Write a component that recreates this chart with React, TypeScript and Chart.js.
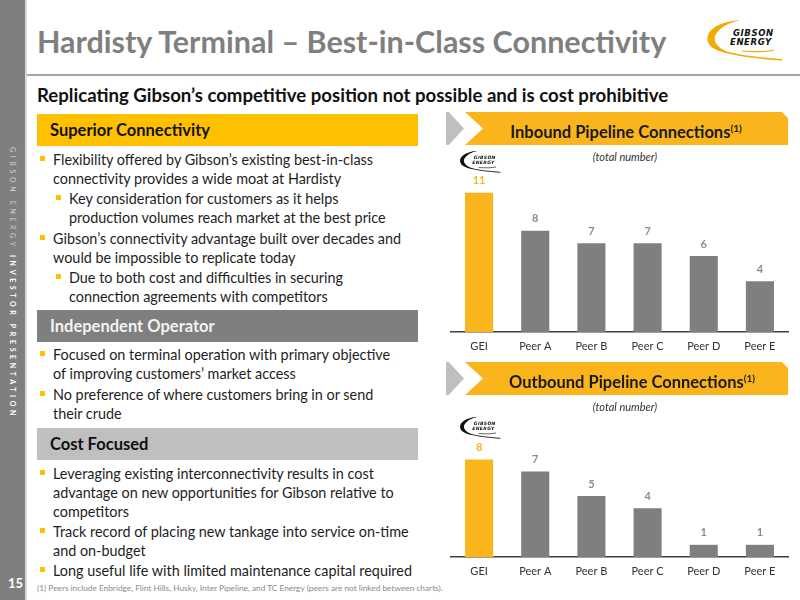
import React, { useEffect, useRef } from "react";
import { Chart, registerables } from "chart.js";
Chart.register(...registerables);

const categories = ["GEI", "Peer A", "Peer B", "Peer C", "Peer D", "Peer E"];
const inboundValues = [11, 8, 7, 7, 6, 4];
const outboundValues = [8, 7, 5, 4, 1, 1];
const inboundMax = 12;
const outboundMax = 10;

const ORANGE = "#F9B51B";
const HEAD_YELLOW = "#FFC000";
const GRAY = "#7F7F7F";
const FONT = "Lato, 'Open Sans', sans-serif";

function BarChart(props: { values: number[]; max: number; top: number; height: number; padTop: number; axisH: number }) {
  const { values, max, top, height, padTop, axisH } = props;
  const ref = useRef<HTMLCanvasElement>(null);
  useEffect(() => {
    const labelPlugin = {
      id: "vals",
      afterDatasetsDraw(chart: any) {
        const ctx = chart.ctx;
        const meta = chart.getDatasetMeta(0);
        ctx.save();
        ctx.font = `bold 11px ${FONT}`;
        ctx.textAlign = "center";
        ctx.textBaseline = "middle";
        meta.data.forEach((el: any, i: number) => {
          ctx.fillStyle = i === 0 ? ORANGE : "#8C8C8C";
          ctx.fillText(String(values[i]), el.x, el.y - 12);
        });
        ctx.restore();
      },
    };
    const chart = new Chart(ref.current as HTMLCanvasElement, {
      type: "bar",
      data: {
        labels: categories,
        datasets: [
          {
            data: values,
            backgroundColor: categories.map((_, i) => (i === 0 ? ORANGE : GRAY)),
            categoryPercentage: 1,
            barPercentage: 0.5,
          },
        ],
      },
      options: {
        animation: false,
        responsive: false,
        maintainAspectRatio: false,
        layout: { padding: { left: 11, right: 7, top: padTop, bottom: 0 } },
        plugins: { legend: { display: false }, tooltip: { enabled: false } },
        scales: {
          x: {
            grid: { display: false, drawTicks: false },
            border: { display: true, color: "#3F3F3F", width: 1.5 },
            ticks: { padding: 8, color: "#333", font: { family: "Lato", size: 11 } },
            afterFit: (s: any) => {
              s.height = axisH;
            },
          },
          y: { display: false, min: 0, max },
        },
      },
      plugins: [labelPlugin],
    } as any);
    return () => chart.destroy();
  }, []);
  return (
    <canvas
      ref={ref}
      width={355}
      height={height}
      style={{ position: "absolute", left: 440, top, width: 355, height }}
    />
  );
}

function Logo(props: { left: number; top: number; width: number; color: string }) {
  const { left, top, width, color } = props;
  const h = (width * 50) / 85;
  return (
    <svg
      viewBox="0 0 85 50"
      width={width}
      height={h}
      style={{ position: "absolute", left, top }}
    >
      <path
        d="M40 5 C15 7 3 18 9 29 C12 34 20 37 32 39 C19 34 13 28 15 21 C19 12 29 8 40 5 Z"
        fill={color}
      />
      <path d="M22 36 C40 42 62 43 82 45" stroke={color} strokeWidth={1.6} fill="none" />
      <path d="M42 36 C55 37 66 37 74 35" stroke={color} strokeWidth={1.2} fill="none" />
      <text
        x={33}
        y={21}
        fontFamily="'DejaVu Sans', sans-serif"
        fontWeight="bold"
        fontStyle="italic"
        fontSize={8.5}
        letterSpacing={0.6}
        fill="#111"
      >
        GIBSON
      </text>
      <text
        x={30}
        y={30}
        fontFamily="'DejaVu Sans', sans-serif"
        fontWeight="bold"
        fontStyle="italic"
        fontSize={8.5}
        letterSpacing={0.6}
        fill="#111"
      >
        ENERGY
      </text>
    </svg>
  );
}

function Line(props: { x: number; y: number; text: React.ReactNode; size?: number; bold?: boolean; color?: string; italic?: boolean; center?: boolean; lh?: number }) {
  const { x, y, text, size = 14.4, bold, color = "#1E1E1E", italic, center, lh = 20 } = props;
  return (
    <div
      style={{
        position: "absolute",
        left: center ? x - 300 : x,
        width: center ? 600 : undefined,
        textAlign: center ? "center" : "left",
        top: y - lh / 2,
        height: lh,
        lineHeight: `${lh}px`,
        fontSize: size,
        fontWeight: bold ? 700 : 400,
        fontStyle: italic ? "italic" : "normal",
        color,
        whiteSpace: "nowrap",
      }}
    >
      {text}
    </div>
  );
}

function Bullet(props: { x: number; y: number; lines: string[]; gap?: number }) {
  const { x, y, lines, gap = 19.2 } = props;
  return (
    <>
      <div
        style={{
          position: "absolute",
          left: x - 13,
          top: y - 4,
          width: 5,
          height: 5,
          background: HEAD_YELLOW,
        }}
      />
      {lines.map((t, i) => (
        <Line key={i} x={x} y={y + i * gap} text={t} />
      ))}
    </>
  );
}

function HeaderBox(props: { top: number; text: string; bg: string; color: string }) {
  const { top, text, bg, color } = props;
  return (
    <div
      style={{
        position: "absolute",
        left: 37,
        top,
        width: 381,
        height: 32,
        background: bg,
        color,
        fontWeight: 700,
        fontSize: 16.5,
        lineHeight: "32px",
        paddingLeft: 13,
        boxSizing: "border-box",
        whiteSpace: "nowrap",
      }}
    >
      {text}
    </div>
  );
}

function Banner(props: { top: number; title: string; cx: number }) {
  const { top, title, cx } = props;
  const h = 33;
  return (
    <>
      <div
        style={{
          position: "absolute",
          left: 446,
          top,
          width: 18,
          height: h,
          background: "#BFBFBF",
          clipPath: "polygon(0 0, 15% 0, 100% 50%, 15% 100%, 0 100%)",
        }}
      />
      <div
        style={{
          position: "absolute",
          left: 465,
          top,
          width: 323,
          height: h,
          background: ORANGE,
          clipPath: "polygon(0 0, 317px 0, 323px 6px, 323px 100%, 0 100%, 18px 50%)",
        }}
      />
      <div
        style={{
          position: "absolute",
          left: cx - 200,
          width: 400,
          top,
          height: h,
          lineHeight: `${h}px`,
          textAlign: "center",
          fontWeight: 700,
          fontSize: 16.5,
          color: "#1A1A1A",
          whiteSpace: "nowrap",
        }}
      >
        {title}
        <sup style={{ fontSize: 10, verticalAlign: "6px" }}>(1)</sup>
      </div>
    </>
  );
}

export default function App() {
  return (
    <div
      style={{
        position: "fixed",
        left: 0,
        top: 0,
        width: 800,
        height: 600,
        background: "#FFFFFF",
        overflow: "hidden",
        fontFamily: FONT,
      }}
    >
      {/* sidebar */}
      <div style={{ position: "absolute", left: 0, top: 0, width: 25, height: 600, background: GRAY }} />
      <div style={{ position: "absolute", left: 25, top: 0, width: 2, height: 600, background: "#D9D9D9" }} />
      <div
        style={{
          position: "absolute",
          left: 8,
          top: 147,
          writingMode: "vertical-rl",
          fontSize: 7,
          letterSpacing: 3.65,
          lineHeight: "9px",
          whiteSpace: "nowrap",
        }}
      >
        <span style={{ color: "#CFCFCF" }}>GIBSON ENERGY </span>
        <span style={{ color: "#FFFFFF", fontWeight: 700 }}>INVESTOR PRESENTATION</span>
      </div>
      <Line x={8} y={583} text="15" size={13} bold color="#FFFFFF" />

      {/* title */}
      <Line x={37} y={41} text="Hardisty Terminal – Best-in-Class Connectivity" size={30.5} bold color={GRAY} lh={38} />
      <Logo left={700} top={15} width={85} color="#F5A800" />
      <div style={{ position: "absolute", left: 27, top: 74, width: 773, height: 2, background: "#A6A6A6" }} />
      <Line x={37} y={95} text="Replicating Gibson’s competitive position not possible and is cost prohibitive" size={18.6} bold color="#111" lh={24} />

      {/* left column */}
      <HeaderBox top={114} text="Superior Connectivity" bg={HEAD_YELLOW} color="#111" />
      <Bullet x={53} y={160} lines={["Flexibility offered by Gibson’s existing best-in-class", "connectivity provides a wide moat at Hardisty"]} />
      <Bullet x={69} y={199} lines={["Key consideration for customers as it helps", "production volumes reach market at the best price"]} />
      <Bullet x={53} y={239} lines={["Gibson’s connectivity advantage built over decades and", "would be impossible to replicate today"]} />
      <Bullet x={69} y={278} lines={["Due to both cost and difficulties in securing", "connection agreements with competitors"]} />

      <HeaderBox top={310} text="Independent Operator" bg={GRAY} color="#F2F2F2" />
      <Bullet x={53} y={355} lines={["Focused on terminal operation with primary objective", "of improving customers’ market access"]} />
      <Bullet x={53} y={395} lines={["No preference of where customers bring in or send", "their crude"]} />

      <HeaderBox top={428} text="Cost Focused" bg="#BFBFBF" color="#111" />
      <Bullet x={53} y={474} lines={["Leveraging existing interconnectivity results in cost", "advantage on new opportunities for Gibson relative to", "competitors"]} />
      <Bullet x={53} y={532} lines={["Track record of placing new tankage into service on-time", "and on-budget"]} />
      <Bullet x={53} y={571} lines={["Long useful life with limited maintenance capital required"]} />
      <Line
        x={37}
        y={588}
        text="(1) Peers include Enbridge, Flint Hills, Husky, Inter Pipeline, and TC Energy (peers are not linked between charts)."
        size={8.3}
        color="#8A8A8A"
        lh={11}
      />

      {/* inbound chart */}
      <Banner top={112} title="Inbound Pipeline Connections" cx={626} />
      <Line x={625} y={157} text="(total number)" size={11} italic color="#333" center lh={14} />
      <BarChart values={inboundValues} max={inboundMax} top={150} height={215} padTop={30} axisH={33} />
      <Logo left={456} top={148} width={46} color="#111" />

      {/* outbound chart */}
      <Banner top={362} title="Outbound Pipeline Connections" cx={632} />
      <Line x={625} y={407} text="(total number)" size={11} italic color="#333" center lh={14} />
      <BarChart values={outboundValues} max={outboundMax} top={380} height={209} padTop={55} axisH={32} />
      <Logo left={456} top={414} width={46} color="#111" />
    </div>
  );
}
